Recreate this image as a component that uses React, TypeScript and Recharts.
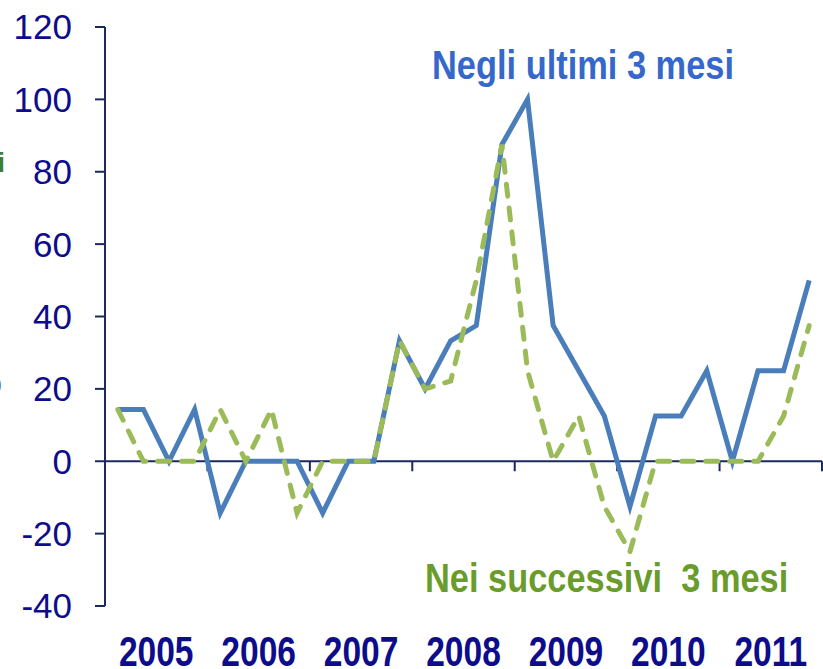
import React from 'react';
import { LineChart, Line, XAxis, YAxis, ReferenceLine } from 'recharts';

// quarterly balance, 2005Q1 - 2011Q4
const years = ['2005', '2006', '2007', '2008', '2009', '2010', '2011'];
const quarterNames = ['Q1', 'Q2', 'Q3', 'Q4'];

const lastThreeMonths = [
  14.3, 14.3, 0, 14.3,
  -14.3, 0, 0, 0,
  -14.3, 0, 0, 33.3,
  20, 33.3, 37.5, 87.5,
  100, 37.5, 25, 12.5,
  -12.5, 12.5, 12.5, 25,
  0, 25, 25, 50,
];

const nextThreeMonths = [
  14.3, 0, 0, 0,
  14.3, 0, 14.3, -14.3,
  0, 0, 0, 33.3,
  20, 22.2, 50, 87.5,
  25, 0, 12.5, -12.5,
  -25, 0, 0, 0,
  0, 0, 12.5, 37.5,
];

const yTicks = [-40, -20, 0, 20, 40, 60, 80, 100, 120];

const data = years.flatMap((year, yi) =>
  quarterNames.map((qn, qi) => ({
    q: `${year}${qn}`,
    year,
    last: lastThreeMonths[yi * 4 + qi],
    next: nextThreeMonths[yi * 4 + qi],
  }))
);

const NAVY = '#1B2A5E';
const LABEL_BLUE = '#0D0D8C';
const SANS = 'Liberation Sans, Arial, sans-serif';

const YearTick = ({ x, y, payload }: any) => (
  <text
    transform={`translate(${x},${y + 30}) scale(0.78,1)`}
    textAnchor="middle"
    fontFamily={SANS}
    fontWeight="bold"
    fontSize={43}
    fill={LABEL_BLUE}
  >
    {payload.value}
  </text>
);

const AxisTick = (p: any) => (
  <line x1={p.x1} y1={p.y1} x2={p.x1} y2={p.y1 + 10} stroke={NAVY} strokeWidth={2} />
);

export default function App() {
  return (
    <div style={{ position: 'absolute', left: 0, top: 0, width: 823, height: 669, background: '#fff' }}>
      <LineChart width={823} height={669} data={data} margin={{ top: 27, right: 1, left: 0, bottom: 0 }}>
        <XAxis xAxisId="q" dataKey="q" scale="band" hide />
        <XAxis
          xAxisId="yr"
          dataKey="year"
          scale="band"
          allowDuplicatedCategory={false}
          ticks={years}
          axisLine={false}
          tickLine={false}
          tickSize={0}
          tickMargin={0}
          height={63}
          interval={0}
          tick={<YearTick />}
        />
        <YAxis
          width={105}
          domain={[-40, 120]}
          ticks={yTicks}
          interval={0}
          tickSize={10}
          tickMargin={23}
          axisLine={{ stroke: NAVY, strokeWidth: 2 }}
          tickLine={{ stroke: NAVY, strokeWidth: 2 }}
          tick={{ fontSize: 35, fill: LABEL_BLUE, fontFamily: SANS }}
        />
        <ReferenceLine xAxisId="q" y={0} stroke={NAVY} strokeWidth={2} />
        {years.slice(1).map((yr) => (
          <ReferenceLine
            key={yr}
            xAxisId="q"
            segment={[{ x: `${yr}Q1`, y: 0 }, { x: `${yr}Q1`, y: 0 }]}
            position="start"
            shape={AxisTick}
          />
        ))}
        <ReferenceLine
          xAxisId="q"
          segment={[{ x: '2011Q4', y: 0 }, { x: '2011Q4', y: 0 }]}
          position="end"
          shape={AxisTick}
        />
        <Line
          xAxisId="q"
          type="linear"
          dataKey="last"
          stroke="#4A7EBB"
          strokeWidth={5}
          dot={false}
          activeDot={false}
          isAnimationActive={false}
        />
        <Line
          xAxisId="q"
          type="linear"
          dataKey="next"
          stroke="#9BBB59"
          strokeWidth={5}
          strokeDasharray="12 12"
          strokeLinecap="round"
          dot={false}
          activeDot={false}
          isAnimationActive={false}
        />
      </LineChart>
      <svg width={823} height={669} style={{ position: 'absolute', left: 0, top: 0, pointerEvents: 'none' }}>
        <text
          transform="translate(432,79) scale(0.86,1)"
          fontFamily={SANS}
          fontWeight="bold"
          fontSize={40}
          fill="#3568CA"
        >
          Negli ultimi 3 mesi
        </text>
        <text
          transform="translate(425,592) scale(0.86,1)"
          fontFamily={SANS}
          fontWeight="bold"
          fontSize={40}
          fill="#6A9C2C"
          xmlSpace="preserve"
          style={{ whiteSpace: 'pre' }}
        >
          {'Nei successivi  3 mesi'}
        </text>
        <text x={5} y={172} textAnchor="end" fontFamily={SANS} fontWeight="bold" fontSize={27} fill="#3F7F2F">
          i
        </text>
        <text x={2} y={393} textAnchor="end" fontFamily={SANS} fontSize={27} fill="#6F7FD0">
          o
        </text>
      </svg>
    </div>
  );
}
